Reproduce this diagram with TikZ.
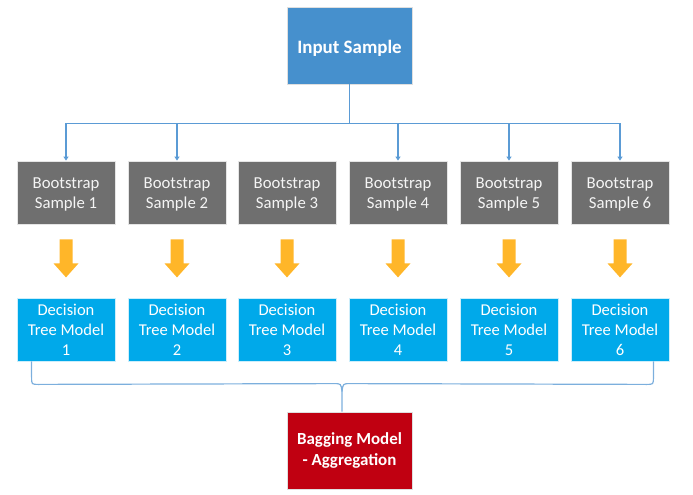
\documentclass[tikz,border=0pt]{standalone}
\usepackage{fontspec}
\setmainfont{Carlito}
\usetikzlibrary{arrows.meta,calc}
\definecolor{inblue}{HTML}{4690CD}
\definecolor{bsgray}{HTML}{6F6F6F}
\definecolor{dtblue}{HTML}{00A9EA}
\definecolor{bagred}{HTML}{C00011}
\definecolor{gold}{HTML}{FFB629}
\definecolor{linkblue}{HTML}{5B9BD5}
\newcommand{\lowered}[2]{\raisebox{-#1}[\height][\depth]{#2}}
\tikzset{
  bigbox/.style={rectangle, draw=white!75!gray, line width=0.8bp, minimum width=125bp, minimum height=77bp, inner sep=0pt, text=white, font=\fontsize{19}{23}\selectfont\bfseries, align=center},
  bsbox/.style={rectangle, fill=bsgray, draw=white!80!gray, line width=0.8bp, minimum width=98bp, minimum height=63bp, inner sep=0pt, text=white!92!gray, font=\fontsize{16.8}{20}\selectfont, align=center},
  dtbox/.style={rectangle, fill=dtblue, draw=white!80!dtblue, line width=0.8bp, minimum width=98bp, minimum height=63bp, inner sep=0pt, text=white, font=\fontsize{16.6}{20}\selectfont, align=center},
  conn/.style={draw=linkblue, line width=1.3bp},
  connarrow/.style={conn, -{Triangle[width=5bp,length=4bp]}},
  bracestyle/.style={draw=linkblue!80, line width=1.2bp},
  goldarrow/.style={fill=gold, draw=none},
}
\begin{document}
\begin{tikzpicture}[x=1bp,y=-1bp]
\path[use as bounding box] (0,0) rectangle (693,495);
\node[bigbox, fill=inblue] (in) at (349.5,45.5) {\lowered{3bp}{Input Sample}};
\foreach \i/\x in {1/66,2/177,3/287,4/398,5/509,6/620}{
  \node[bsbox] (g\i) at (\x,192.5) {\lowered{2bp}{Bootstrap}\\\lowered{2bp}{Sample \i}};
  \node[dtbox] (d\i) at (\x,329.5) {Decision\\Tree Model\\\i};
  \fill[goldarrow] ($(g\i.south)+(-6.5,15)$) -- ++(13,0) -- ++(0,24) -- ++(6,0) -- ($(g\i.south)+(0,53)$) -- ($(g\i.south)+(-12.5,39)$) -- ++(6,0) -- cycle;
}
\node[bigbox, fill=bagred, font=\fontsize{17}{20.5}\selectfont\bfseries] (bag) at (349.5,450.5) {Bagging Model\\- Aggregation};
\draw[conn] (in.south) -- ++(0,39) coordinate (hub);
\foreach \i in {1,2,4,5,6}{
  \draw[connarrow] (hub) -| (g\i.north);
}
\coordinate (bl) at ($(d1.south west)+(15,0)$);
\coordinate (br) at ($(d6.south east)+(-16,0)$);
\coordinate (tip) at ($(bag.north)+(-7.5,0)$);
\draw[bracestyle] (bl) -- ($(bl)+(0,16)$) .. controls ($(bl)+(0,23)$) .. ($(bl)+(7,23)$) -- ($(tip)+(-8,-28)$) .. controls ($(tip)+(-1,-28)$) .. ($(tip)+(0,-20)$) -- (tip);
\draw[bracestyle] (br) -- ($(br)+(0,16)$) .. controls ($(br)+(0,23)$) .. ($(br)+(-7,23)$) -- ($(tip)+(8,-28)$) .. controls ($(tip)+(1,-28)$) .. ($(tip)+(0,-20)$);
\end{tikzpicture}
\end{document}
